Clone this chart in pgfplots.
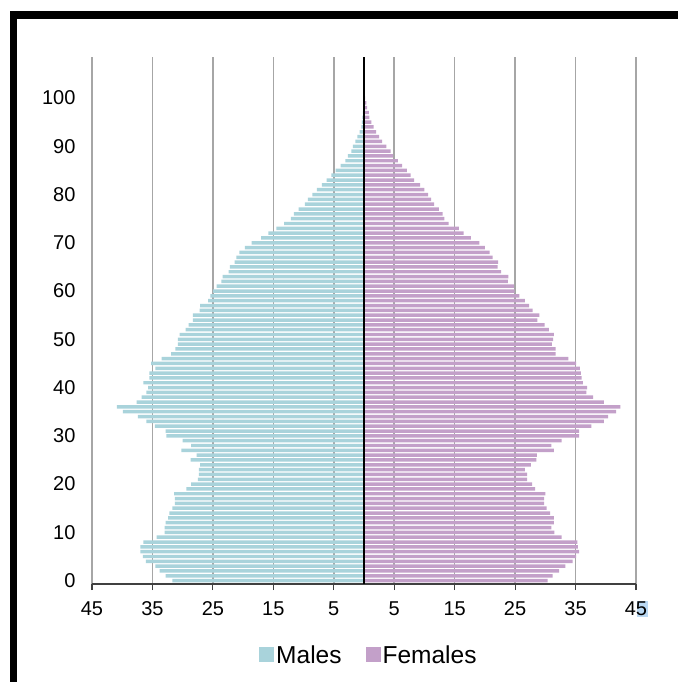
\documentclass[border=0pt]{standalone}
\usepackage{fontspec}
\setmainfont{Liberation Sans}
\usepackage{pgfplots}
\pgfplotsset{compat=1.18}
\usepackage{pgfplotstable}

\definecolor{male}{HTML}{A9D3DB}
\definecolor{female}{HTML}{C3A0C9}
\definecolor{gridgray}{HTML}{A6A6A6}
\definecolor{selblue}{HTML}{BAD8F2}

% population by single year of age, males negative
\pgfplotstableread{
age m f
0 -31.7 30.4
1 -32.8 31.2
2 -33.8 32.3
3 -34.5 33.3
4 -36.1 34.5
5 -36.6 35.1
6 -37.0 35.6
7 -37.0 35.4
8 -36.5 35.3
9 -34.3 32.7
10 -33.0 31.5
11 -33.0 31.0
12 -32.8 31.4
13 -32.4 31.4
14 -32.2 30.8
15 -31.7 30.2
16 -31.3 29.8
17 -31.3 29.8
18 -31.4 30.0
19 -29.4 28.3
20 -28.6 27.8
21 -27.5 27.0
22 -27.3 27.0
23 -27.3 26.6
24 -27.1 27.6
25 -28.7 28.5
26 -27.7 28.6
27 -30.2 31.4
28 -28.6 31.0
29 -30.0 32.7
30 -32.7 35.6
31 -32.8 35.6
32 -34.6 37.6
33 -36.0 39.7
34 -37.4 40.4
35 -39.9 41.7
36 -40.9 42.4
37 -37.6 39.7
38 -36.8 37.9
39 -36.0 36.8
40 -35.7 36.9
41 -36.5 36.2
42 -35.5 36.0
43 -35.5 35.9
44 -34.5 35.7
45 -35.2 35.1
46 -33.5 33.8
47 -31.9 31.7
48 -31.2 31.7
49 -30.8 31.1
50 -30.8 31.3
51 -30.5 31.4
52 -29.5 30.6
53 -29.0 29.9
54 -28.3 28.7
55 -28.3 29.0
56 -27.2 27.9
57 -27.1 27.3
58 -25.8 26.6
59 -25.4 25.7
60 -25.0 24.9
61 -24.4 24.8
62 -23.6 23.8
63 -23.4 23.9
64 -22.4 22.7
65 -22.2 22.1
66 -21.4 22.2
67 -21.1 21.3
68 -20.6 20.8
69 -19.7 20.0
70 -18.6 19.1
71 -17.0 17.7
72 -15.8 16.5
73 -14.5 15.7
74 -13.2 14.0
75 -12.1 13.3
76 -11.6 13.0
77 -10.8 12.4
78 -9.8 11.6
79 -9.3 11.1
80 -8.55 10.6
81 -7.8 10.0
82 -6.95 9.3
83 -6.2 8.3
84 -5.4 7.7
85 -4.7 7.1
86 -3.86 6.3
87 -3.1 5.6
88 -2.65 4.8
89 -2.1 4.4
90 -1.82 3.7
91 -1.43 3.0
92 -1.1 2.5
93 -0.72 2.0
94 -0.45 1.6
95 -0.35 1.2
96 -0.25 0.9
97 -0.2 0.8
98 -0.12 0.5
99 -0.08 0.4
100 -0.05 0.2
}\pyramid

\begin{document}
\begin{tikzpicture}
\path[use as bounding box] (0pt,0pt) rectangle (678pt,682pt);
% frame of the screenshot
\fill[black] (9.5pt,663pt) rectangle (678pt,671pt);
\fill[black] (9.5pt,0pt) rectangle (17.3pt,671pt);
\fill[selblue] (637pt,65pt) rectangle (648pt,81pt);
\begin{axis}[
    at={(92pt,98pt)}, anchor=south west,
    scale only axis,
    width=544pt, height=527pt,
    xmin=-45, xmax=45,
    ymin=-0.7, ymax=108.5,
    xbar, bar shift=0pt, bar width=0.72,
    axis x line*=bottom,
    axis y line*=left,
    x axis line style={draw=black!75, line width=1.5pt, -},
    y axis line style={draw=none},
    xtick={-45,-35,-25,-15,-5,5,15,25,35,45},
    xticklabels={45,35,25,15,5,5,15,25,35,45},
    ytick={0,10,...,100},
    tick align=outside,
    major tick length=6pt,
    xtick style={draw=black!75, line width=1.2pt},
    ytick style={draw=none},
    xmajorgrids,
    major grid style={gridgray, line width=1.6pt},
    tick label style={font=\fontsize{20}{24}\selectfont},
    /pgf/number format/assume math mode=true,
    yticklabel style={xshift=-7pt},
    xticklabel style={yshift=-8pt},
    legend columns=2,
    legend style={at={(0.509,-0.1347)}, anchor=center, draw=none,
        font=\fontsize{24.5}{29}\selectfont,
        /tikz/every even column/.append style={column sep=22pt}},
    legend image code/.code={\fill[#1] (0pt,-7.5pt) rectangle (15pt,7.5pt);},
]
\addplot[fill=male, draw=none] table[x=m, y=age] {\pyramid};
\addplot[fill=female, draw=none] table[x=f, y=age] {\pyramid};
\legend{Males, Females}
\draw[black, line width=1.5pt] (axis cs:0,-0.7) -- (axis cs:0,108.5);
\end{axis}
\end{tikzpicture}
\end{document}
